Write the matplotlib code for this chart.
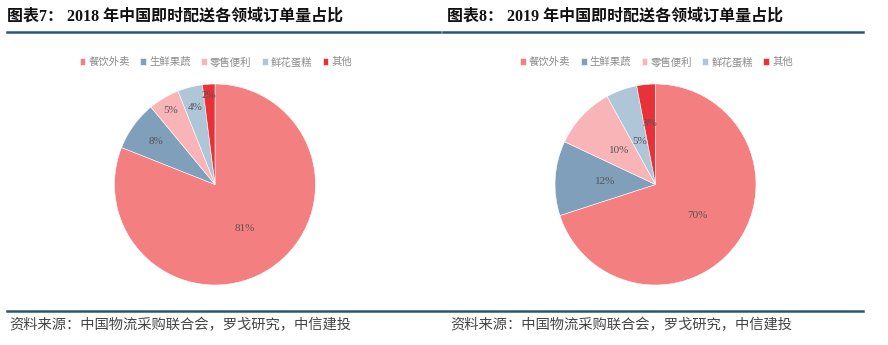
import matplotlib.pyplot as plt
from matplotlib.lines import Line2D
import numpy as np

plt.rcParams['font.family'] = ['Noto Sans CJK SC', 'DejaVu Sans']

categories = ['餐饮外卖', '生鲜果蔬', '零售便利', '鲜花蛋糕', '其他']
share_2018 = [81, 8, 5, 4, 2]
share_2019 = [70, 12, 10, 5, 3]
titles = ['图表7： 2018 年中国即时配送各领域订单量占比',
          '图表8： 2019 年中国即时配送各领域订单量占比']
source = '资料来源：中国物流采购联合会，罗戈研究，中信建投'

colors = ['#F47F80', '#7F9FBA', '#F8B4B6', '#AFC6D8', '#E8323A']
# label distance per slice (fraction of radius)
dist_2018 = [0.53, 0.72, 0.86, 0.79, 0.89]
dist_2019 = [0.52, 0.50, 0.49, 0.45, 0.61]

W, H = 888, 345
fig = plt.figure(figsize=(W / 100, H / 100), dpi=100)


def px(x, y):
    return x / W, 1 - y / H


def draw_pie(cx, cy, r, values, dists):
    ax = fig.add_axes([(cx - r) / W, 1 - (cy + r) / H, 2 * r / W, 2 * r / H])
    wedges, texts = ax.pie(values, colors=colors, startangle=90, counterclock=False,
                           wedgeprops=dict(edgecolor='white', linewidth=0.4))
    for w, v, d in zip(wedges, values, dists):
        ang = np.deg2rad((w.theta1 + w.theta2) / 2)
        ax.text(d * np.cos(ang), d * np.sin(ang), f'{v}%', ha='center', va='center',
                fontsize=8, color='#555555', family=['Liberation Serif', 'DejaVu Serif'])
    ax.set_xlim(-1, 1)
    ax.set_ylim(-1, 1)
    ax.set_aspect('equal')
    return ax, wedges


for i, (cx, vals, dists) in enumerate([(215, share_2018, dist_2018), (655.5, share_2019, dist_2019)]):
    ax, wedges = draw_pie(cx, 184.5, 100.5, vals, dists)
    fig.legend(wedges, categories, loc='center', bbox_to_anchor=px(cx + 1, 62), ncol=5,
               frameon=False, fontsize=7.5, labelcolor='#8C8C8C', handlelength=0.55,
               handleheight=0.55, handletextpad=0.3, columnspacing=1.0, borderpad=0)

# titles and rules
title_font = ['Liberation Serif', 'Noto Sans CJK SC']
fig.text(*px(7, 17), titles[0], fontsize=11.5, fontweight='bold', va='center', ha='left',
         color='#111111', family=title_font)
fig.text(*px(447, 17), titles[1], fontsize=11.5, fontweight='bold', va='center', ha='left',
         color='#111111', family=title_font)
rule = '#2B5673'
fig.add_artist(Line2D([px(7, 0)[0], px(440, 0)[0]], [px(0, 31.5)[1]] * 2, color=rule, lw=1.8))
fig.add_artist(Line2D([px(443, 0)[0], px(863, 0)[0]], [px(0, 31.5)[1]] * 2, color=rule, lw=1.8))
fig.add_artist(Line2D([px(7, 0)[0], px(863, 0)[0]], [px(0, 311)[1]] * 2, color=rule, lw=1.8))

fig.text(*px(9, 325), source, fontsize=10.3, va='center', ha='left', color='#444444')
fig.text(*px(450, 325), source, fontsize=10.3, va='center', ha='left', color='#444444')

fig.savefig('out.png', dpi=100)
